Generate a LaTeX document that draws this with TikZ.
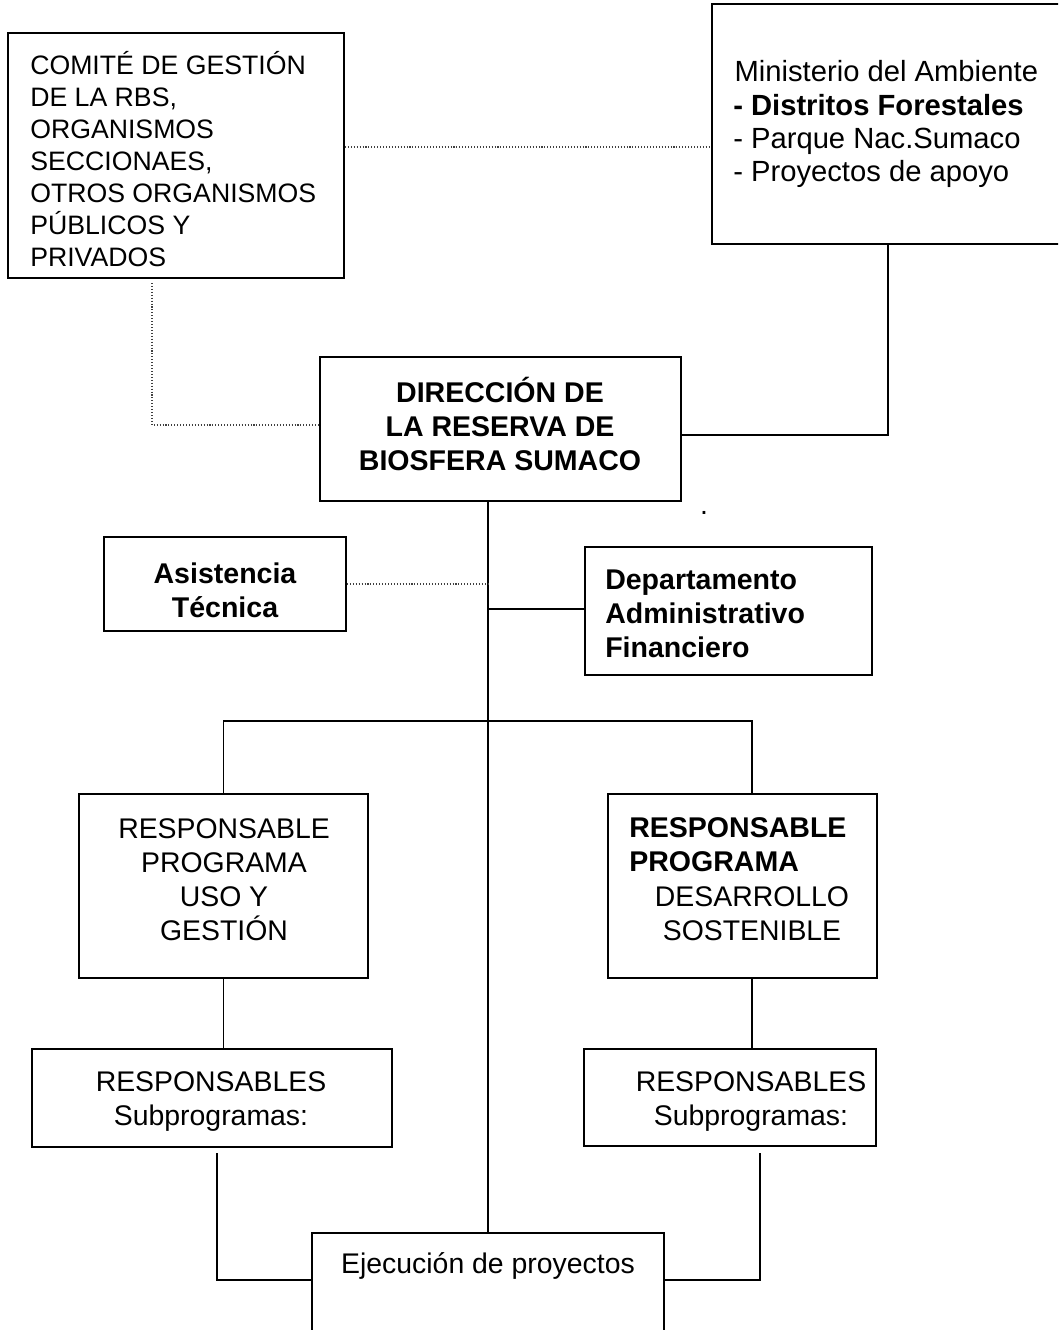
\documentclass[tikz,border=0pt]{standalone}
\usepackage{fontspec}
\setmainfont{Liberation Sans}
\usetikzlibrary{fit}
\begin{document}
\begin{tikzpicture}[x=0.75pt,y=-0.75pt,
  box/.style={draw, line width=1.4pt, inner sep=0pt},
  conn/.style={line width=1.2pt},
  dots/.style={line width=1pt, black!75, dash pattern=on 0.8pt off 1.4pt},
  txt/.style={inner sep=0pt, font=\fontsize{21.3pt}{25.5pt}\selectfont},
  txtS/.style={inner sep=0pt, font=\fontsize{20pt}{24.1pt}\selectfont},
  txtM/.style={inner sep=0pt, font=\fontsize{21.9pt}{25pt}\selectfont},
  txtB/.style={inner sep=0pt, font=\fontsize{21.4pt}{25.5pt}\selectfont\bfseries}
]
\useasboundingbox (0,0) rectangle (1058,1330);
\clip (0,0) rectangle (1058,1330);

% boxes
\node[box, fit={(8,33) (344,278)}] (comite) {};
\node[box, fit={(712,4) (1075,244)}] (minist) {};
\node[box, fit={(320,357) (681,501)}] (dir) {};
\node[box, fit={(104,537) (346,631)}] (asist) {};
\node[box, fit={(585,547) (872,675)}] (depto) {};
\node[box, fit={(79,794) (368,978)}] (progL) {};
\node[box, fit={(608,794) (877,978)}] (progR) {};
\node[box, fit={(32,1049) (392,1147)}] (subL) {};
\node[box, fit={(584,1049) (876,1146)}] (subR) {};
\node[box, fit={(312,1233) (664,1350)}] (ejec) {};

% texts (anchor base = baseline of the last line)
\node[txtS, anchor=base west, align=left] (tcomite) at (30,267)
  {COMITÉ DE GESTIÓN\\DE LA RBS,\\ORGANISMOS\\SECCIONAES,\\OTROS ORGANISMOS\\PÚBLICOS Y\\PRIVADOS};
\node[txtM, anchor=base west, align=left] (tminist) at (733,182)
  {\hspace{1pt}Ministerio del Ambiente\\\textbf{- Distritos Forestales}\\- Parque Nac.Sumaco\\- Proyectos de apoyo};
\node[txtB, anchor=base, align=center] (tdir) at (500,470)
  {DIRECCIÓN DE\\LA RESERVA DE\\BIOSFERA SUMACO};
\node[txtB, anchor=base, align=center] (tasist) at (225,617)
  {Asistencia\\Técnica};
\node[txtB, anchor=base west, align=left] (tdepto) at (605,657)
  {Departamento\\Administrativo\\Financiero};
\node[txt, anchor=base, align=center] (tprogL) at (224,940)
  {RESPONSABLE\\PROGRAMA\\USO Y\\GESTIÓN};
\node[txtB, anchor=base west, align=left] (tprogRa) at (629,871)
  {RESPONSABLE\\PROGRAMA};
\node[txt, anchor=base, align=center] (tprogRb) at (752,940)
  {DESARROLLO\\SOSTENIBLE};
\node[txt, anchor=base, align=center] (tsubL) at (211,1125)
  {RESPONSABLES\\Subprogramas:};
\node[txt, anchor=base, align=center] (tsubR) at (751,1125)
  {RESPONSABLES\\Subprogramas:};
\node[txt, anchor=base] (tejec) at (488,1273) {Ejecución de proyectos};
\node[txt, anchor=base] (punto) at (704,514) {.};

% coordinates
\coordinate (c1) at (0,147);
\coordinate (c2) at (152,425);
\coordinate (c2t) at (152,283);
\coordinate (m1) at (888,435);
\coordinate (c3) at (488,0);
\coordinate (c4) at (488,584);
\coordinate (c5) at (488,609);
\coordinate (c8) at (752,721);
\coordinate (sl) at (217,1153);
\coordinate (sr) at (760,1153);
\coordinate (c9) at (0,1280);

% connectors
\draw[dots] (comite.east |- c1) -- (minist.west |- c1);
\draw[dots] (c2t) -- (c2) -- (dir.west |- c2);
\draw[conn] (minist.south -| m1) |- (dir.east |- m1);
\draw[conn] (dir.south -| c3) -- (ejec.north -| c3);
\draw[dots] (asist.east |- c4) -- (c4);
\draw[conn] (c5) -- (depto.west |- c5);
\draw[conn] (progL.north) |- (c8) -- (progR.north -| c8);
\draw[conn] (progL.south) -- (subL.north -| progL.south);
\draw[conn] (progR.south -| c8) -- (subR.north -| c8);
\draw[conn] (sl) |- (ejec.west |- c9);
\draw[conn] (sr) |- (ejec.east |- c9);
\end{tikzpicture}
\end{document}
